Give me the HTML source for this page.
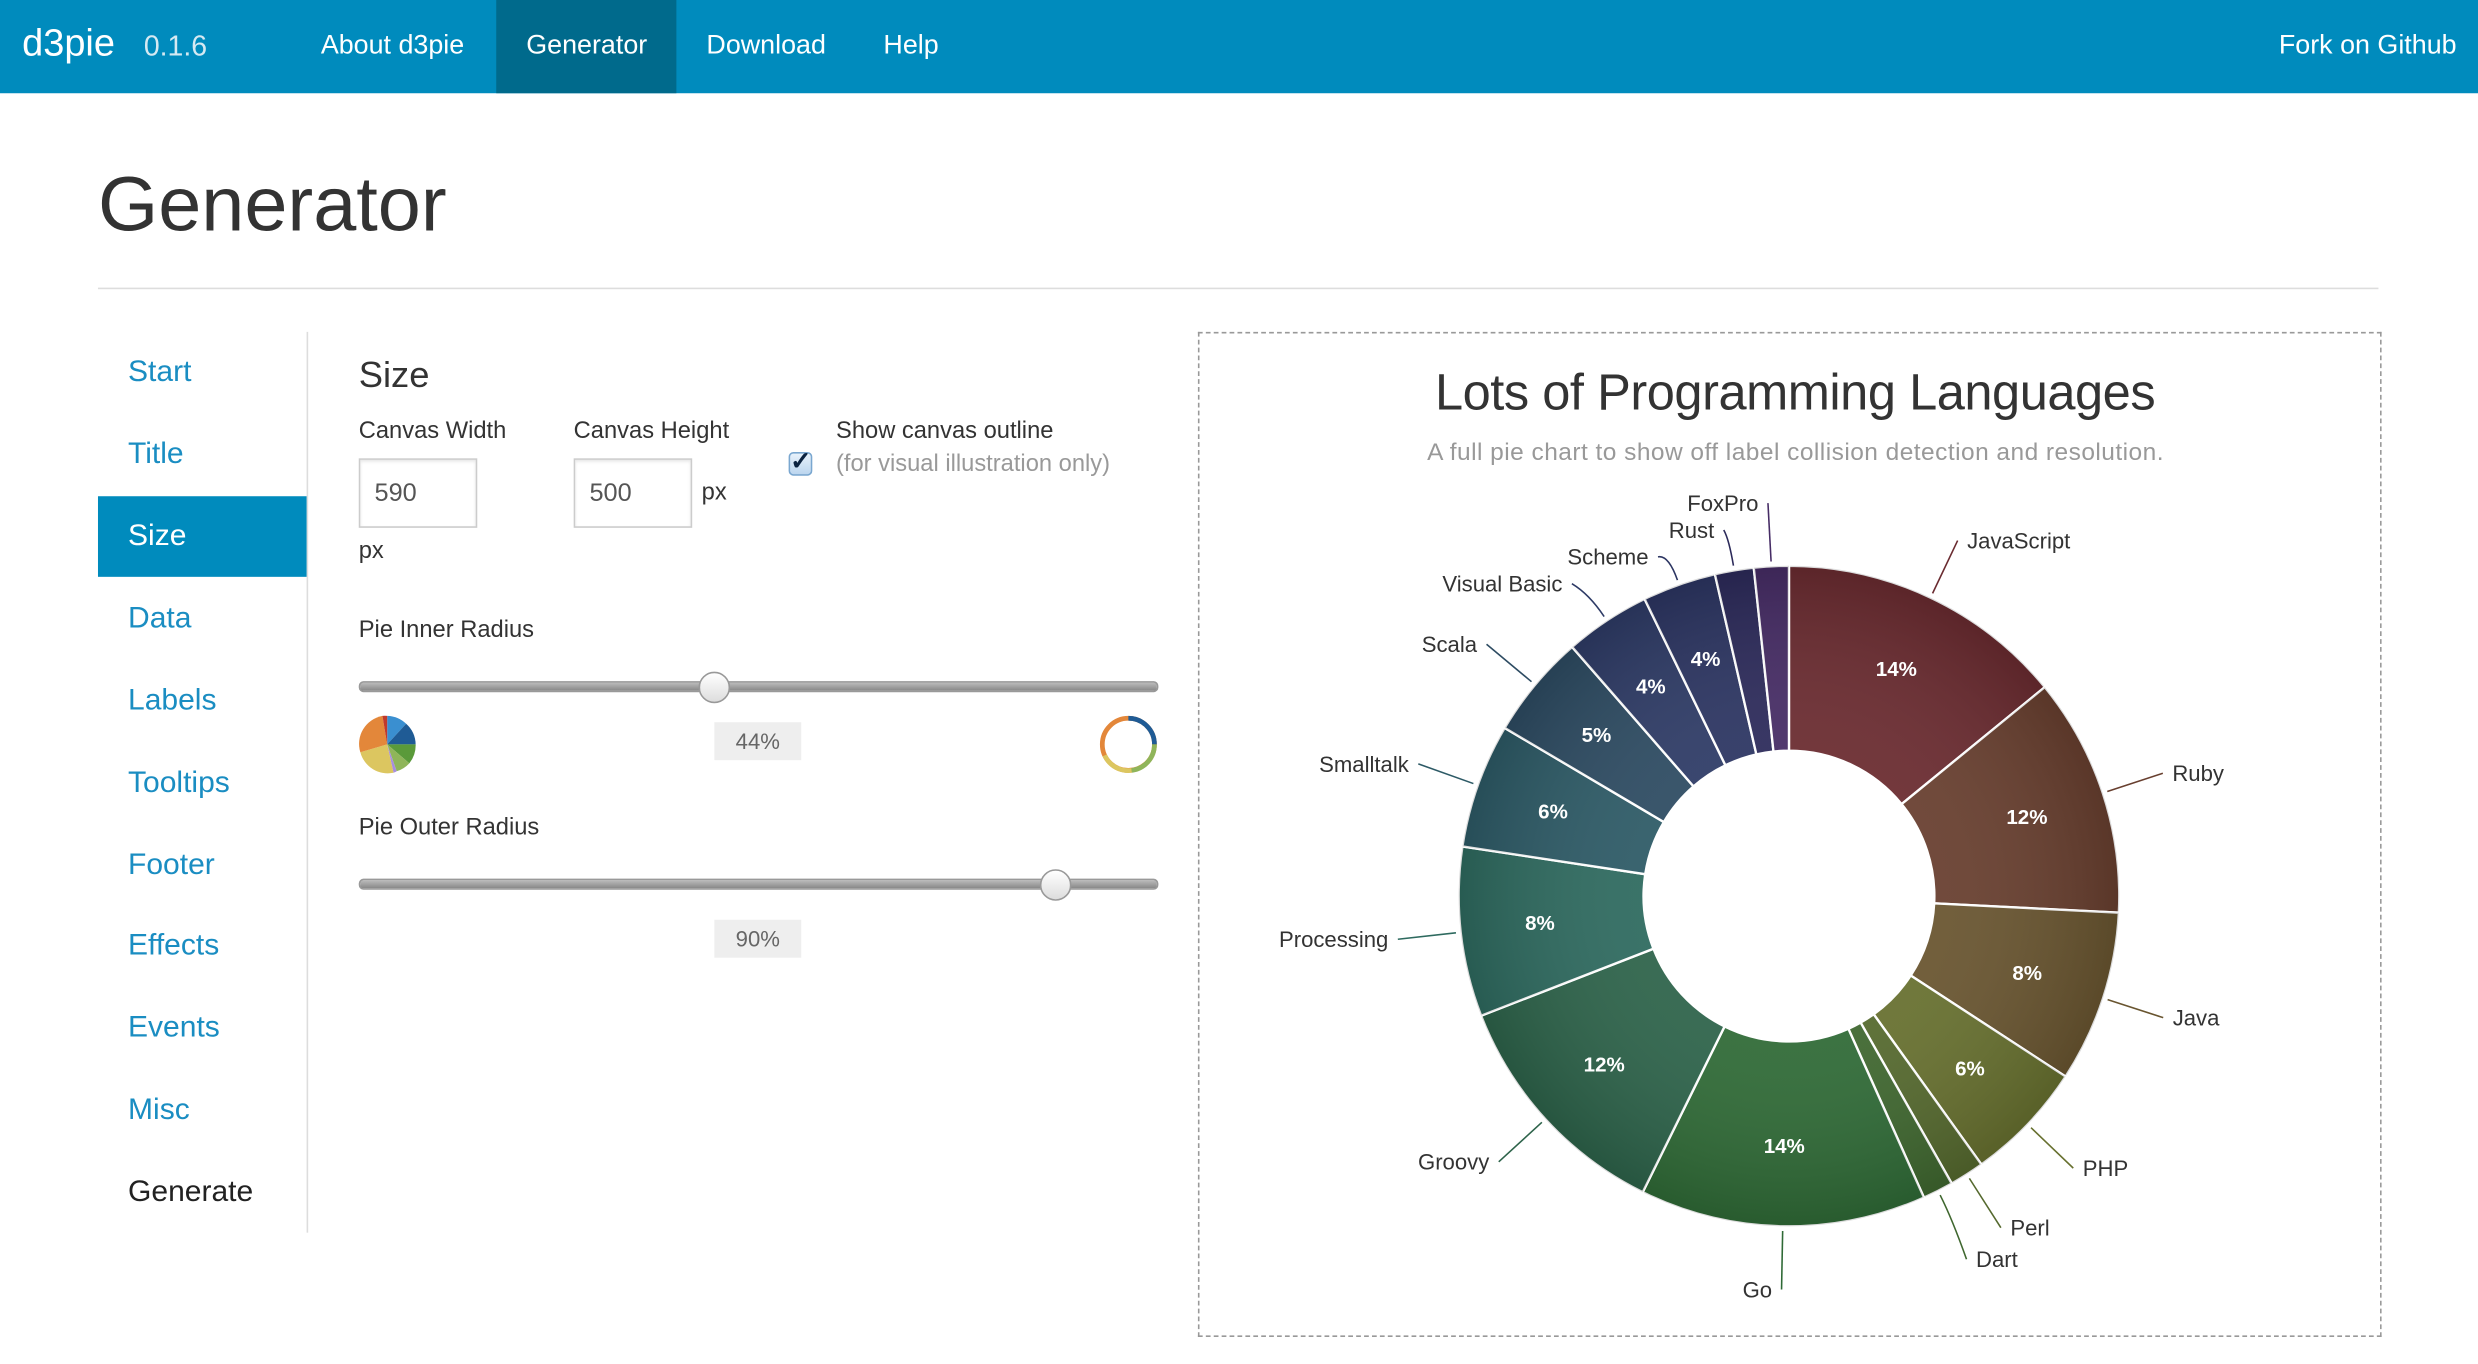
<!DOCTYPE html>
<html><head><meta charset="utf-8">
<style>
html,body{margin:0;padding:0;background:#fff;overflow:hidden;width:2478px;height:1364px}
#wrap{position:absolute;left:0;top:0;width:1568px;height:863px;transform:scale(1.58036);transform-origin:0 0;font-family:"Liberation Sans",sans-serif;color:#333}
.abs{position:absolute;white-space:nowrap}
.nav{position:absolute;left:0;top:0;width:1568px;height:59px;background:#008bbd}
.nav .abs{color:#fff;font-size:17px;top:19px}
.side{font-size:19px;color:#1a8dc2}
.lbl{font-size:15px;color:#333}
.inp{position:absolute;border:1px solid #ccc;box-shadow:inset 0 1px 2px rgba(0,0,0,.1);background:#fff;color:#555;font-size:16px;box-sizing:border-box;padding:13px 0 0 9px}
.track{position:absolute;height:5px;border-radius:3px;background:linear-gradient(#bbb,#888);border:1px solid #999}
.thumb{position:absolute;width:18px;height:18px;border-radius:50%;background:linear-gradient(#fff,#ddd);border:1px solid #999}
.badge{position:absolute;background:#eee;color:#666;font-size:14px;text-align:center;line-height:24px;width:55px;height:24px}
</style></head><body>
<div id="wrap">
<div class="nav">
  <div class="abs" style="left:14px;top:14px;font-size:24px">d3pie</div>
  <div class="abs" style="left:91px;top:19px;font-size:18px;color:#d5e9f2">0.1.6</div>
  <div class="abs" style="left:203px">About d3pie</div>
  <div style="position:absolute;left:314px;top:0;width:114px;height:59px;background:#006a8c"></div>
  <div class="abs" style="left:333px">Generator</div>
  <div class="abs" style="left:447px">Download</div>
  <div class="abs" style="left:559px">Help</div>
  <div class="abs" style="left:1442px">Fork on Github</div>
</div>
<div class="abs" style="left:62px;top:102px;font-size:49px;color:#333">Generator</div>
<div style="position:absolute;left:62px;top:182px;width:1443px;height:1px;background:#ddd"></div>

<div style="position:absolute;left:194px;top:210px;width:1px;height:570px;background:#ddd"></div>
<div style="position:absolute;left:62px;top:314px;width:132px;height:51px;background:#008bbd"></div>
<div class="abs side" style="left:81px;top:225px">Start</div>
<div class="abs side" style="left:81px;top:277px">Title</div>
<div class="abs side" style="left:81px;top:329px;color:#fff">Size</div>
<div class="abs side" style="left:81px;top:381px">Data</div>
<div class="abs side" style="left:81px;top:433px">Labels</div>
<div class="abs side" style="left:81px;top:485px">Tooltips</div>
<div class="abs side" style="left:81px;top:537px">Footer</div>
<div class="abs side" style="left:81px;top:588px">Effects</div>
<div class="abs side" style="left:81px;top:640px">Events</div>
<div class="abs side" style="left:81px;top:692px">Misc</div>
<div class="abs side" style="left:81px;top:744px;color:#222">Generate</div>

<div class="abs" style="left:227px;top:224px;font-size:23px;color:#333">Size</div>
<div class="abs lbl" style="left:227px;top:264px">Canvas Width</div>
<div class="inp" style="left:227px;top:290px;width:75px;height:44px">590</div>
<div class="abs lbl" style="left:227px;top:340px">px</div>
<div class="abs lbl" style="left:363px;top:264px">Canvas Height</div>
<div class="inp" style="left:363px;top:290px;width:75px;height:44px">500</div>
<div class="abs lbl" style="left:444px;top:303px">px</div>
<div style="position:absolute;left:499px;top:286px;width:13px;height:13px;border:1px solid #7aa7d0;border-radius:3px;background:linear-gradient(#e8f2fb,#bcd6ef)"><span style="position:absolute;left:0;top:-5px;font-size:16px;color:#0c2340;font-weight:bold">✓</span></div>
<div class="abs lbl" style="left:529px;top:264px">Show canvas outline</div>
<div class="abs lbl" style="left:529px;top:285px;color:#999">(for visual illustration only)</div>

<div class="abs lbl" style="left:227px;top:390px">Pie Inner Radius</div>
<div class="track" style="left:227px;top:431px;width:504px"></div>
<div class="thumb" style="left:442px;top:425px"></div>
<svg style="position:absolute;left:226px;top:452px" width="40" height="40">
 <path d="M19,19 L19,1 A18,18 0 0 1 31,6 Z" fill="#3a8fd0"/><path d="M19,19 L31,6 A18,18 0 0 1 37,19 Z" fill="#1f5b95"/>
 <path d="M19,19 L37,19 A18,18 0 0 1 33,31 Z" fill="#5a9a3a"/><path d="M19,19 L33,31 A18,18 0 0 1 25,36 Z" fill="#8fb55a"/>
 <path d="M19,19 L25,36 A18,18 0 0 1 23,37 Z" fill="#a78ee0"/><path d="M19,19 L23,37 A18,18 0 0 1 2,24 Z" fill="#dcc660"/>
 <path d="M19,19 L2,24 A18,18 0 0 1 16,1 Z" fill="#e3873a"/><path d="M19,19 L16,1 A18,18 0 0 1 19,1 Z" fill="#c0392b"/>
</svg>
<svg style="position:absolute;left:694px;top:452px" width="40" height="40">
 <circle cx="20" cy="19" r="16.5" fill="none" stroke="#e3873a" stroke-width="3"/>
 <path d="M20,2.5 A16.5,16.5 0 0 1 36.5,19" fill="none" stroke="#1f5b95" stroke-width="3"/>
 <path d="M36.5,19 A16.5,16.5 0 0 1 22,35.5" fill="none" stroke="#8fb55a" stroke-width="3"/>
 <path d="M22,35.5 A16.5,16.5 0 0 1 5,26" fill="none" stroke="#dcc660" stroke-width="3"/>
</svg>
<div class="badge" style="left:452px;top:457px">44%</div>

<div class="abs lbl" style="left:227px;top:515px">Pie Outer Radius</div>
<div class="track" style="left:227px;top:556px;width:504px"></div>
<div class="thumb" style="left:658px;top:550px"></div>
<div class="badge" style="left:452px;top:582px">90%</div>

<div style="position:absolute;left:758px;top:210px;width:747px;height:634px;border:1px dashed #999"></div>
<svg id="chart" style="position:absolute;left:0;top:0" width="1568" height="863">
 <defs>
  <radialGradient id="shade" gradientUnits="userSpaceOnUse" cx="1132" cy="567" r="209">
   <stop offset="0.44" stop-color="#fff" stop-opacity="0.06"/>
   <stop offset="1" stop-color="#000" stop-opacity="0.14"/>
  </radialGradient>
 </defs>
 <text x="1136" y="259" text-anchor="middle" font-size="32" fill="#333" font-family="Liberation Sans, sans-serif" textLength="456">Lots of Programming Languages</text>
 <text x="1136" y="291" text-anchor="middle" font-size="15.5" fill="#999" font-family="Liberation Sans, sans-serif" textLength="466">A full pie chart to show off label collision detection and resolution.</text>
 <g id="slices"></g><g id="labels"></g>
</svg>
</div>
<script>
const categories = ["JavaScript","Ruby","Java","PHP","Perl","Dart","Go","Groovy","Processing","Smalltalk","Scala","Visual Basic","Scheme","Rust","FoxPro"];
const values = [14.1,11.7,8.4,5.9,1.7,1.5,14.0,11.8,8.3,6.1,5.1,4.2,3.6,1.9,1.7];
const colors = ["#6a2b30","#683f2f","#695530","#67702f","#55692e","#3f672f","#2f6a36","#2d634a","#2e6a5f","#2d5a66","#2d4b62","#2e3b66","#2c3562","#2c2a5a","#462c65"];
const NS="http://www.w3.org/2000/svg";
const cx=1132, cy=567, R=209, Ri=92;
const total=values.reduce((a,b)=>a+b,0);
function angleScale(v){return v/total*Math.PI*2;}
function pt(a,r){return [cx+Math.sin(a)*r, cy-Math.cos(a)*r];}
const gS=document.getElementById('slices'), gL=document.getElementById('labels');
let a0=0; const mids=[];
values.forEach((v,i)=>{
  const a1=a0+angleScale(v);
  const large=(a1-a0)>Math.PI?1:0;
  const p1=pt(a0,R),p2=pt(a1,R),p3=pt(a1,Ri),p4=pt(a0,Ri);
  const d=`M${p1}A${R},${R} 0 ${large} 1 ${p2}L${p3}A${Ri},${Ri} 0 ${large} 0 ${p4}Z`;
  for(const fill of [colors[i],"url(#shade)"]){
    const p=document.createElementNS(NS,'path');
    p.setAttribute('d',d);p.setAttribute('fill',fill);
    if(fill===colors[i]){p.setAttribute('stroke','#fff');p.setAttribute('stroke-width','1.5');}
    
    
    gS.appendChild(p);
  }
  const m=(a0+a1)/2; mids.push(m);
  const pct=Math.round(v/total*100);
  if(pct>=4){
    const q=pt(m,(R+Ri)/2+8);
    const t=document.createElementNS(NS,'text');
    t.setAttribute('x',q[0]);t.setAttribute('y',q[1]+4);t.setAttribute('text-anchor','middle');
    t.setAttribute('font-size','13');t.setAttribute('font-weight','bold');t.setAttribute('fill','#fff');
    t.setAttribute('font-family','Liberation Sans, sans-serif');
    t.textContent=pct+'%';
    
    
    gL.appendChild(t);
  }
  a0=a1;
});
const items=mids.map((m,i)=>{const q=pt(m,R+40);return {i,m,x:q[0],y:q[1],right:Math.sin(m)>=0};});
[true,false].forEach(side=>{
  const s=items.filter(o=>o.right===side).sort((a,b)=>a.y-b.y);
  if(side){ for(let k=1;k<s.length;k++){ if(s[k].y-s[k-1].y<20) s[k].y=s[k-1].y+20; } }
  else {
    if(s[0].y<313) s[0].y=313;
    for(let k=1;k<s.length;k++){ if(s[k].y-s[k-1].y<17) s[k].y=s[k-1].y+17; }
  }
});
items.forEach(o=>{
  const s=pt(o.m,R+3);
  const e=[o.x,o.y];
  const ln=document.createElementNS(NS,'path');
  ln.setAttribute('d',`M${s}Q${pt(o.m,R+20)} ${e}`);
  ln.setAttribute('fill','none');ln.setAttribute('stroke',colors[o.i]);ln.setAttribute('stroke-width','1');
  
  
  gL.appendChild(ln);
  const t=document.createElementNS(NS,'text');
  t.setAttribute('x',o.x+(o.right?6:-6));t.setAttribute('y',o.y+5);
  t.setAttribute('text-anchor',o.right?'start':'end');
  t.setAttribute('font-size','14');t.setAttribute('fill','#333');
  t.setAttribute('font-family','Liberation Sans, sans-serif');
  t.textContent=categories[o.i];
  
  
  gL.appendChild(t);
});
</script>
</body></html>
